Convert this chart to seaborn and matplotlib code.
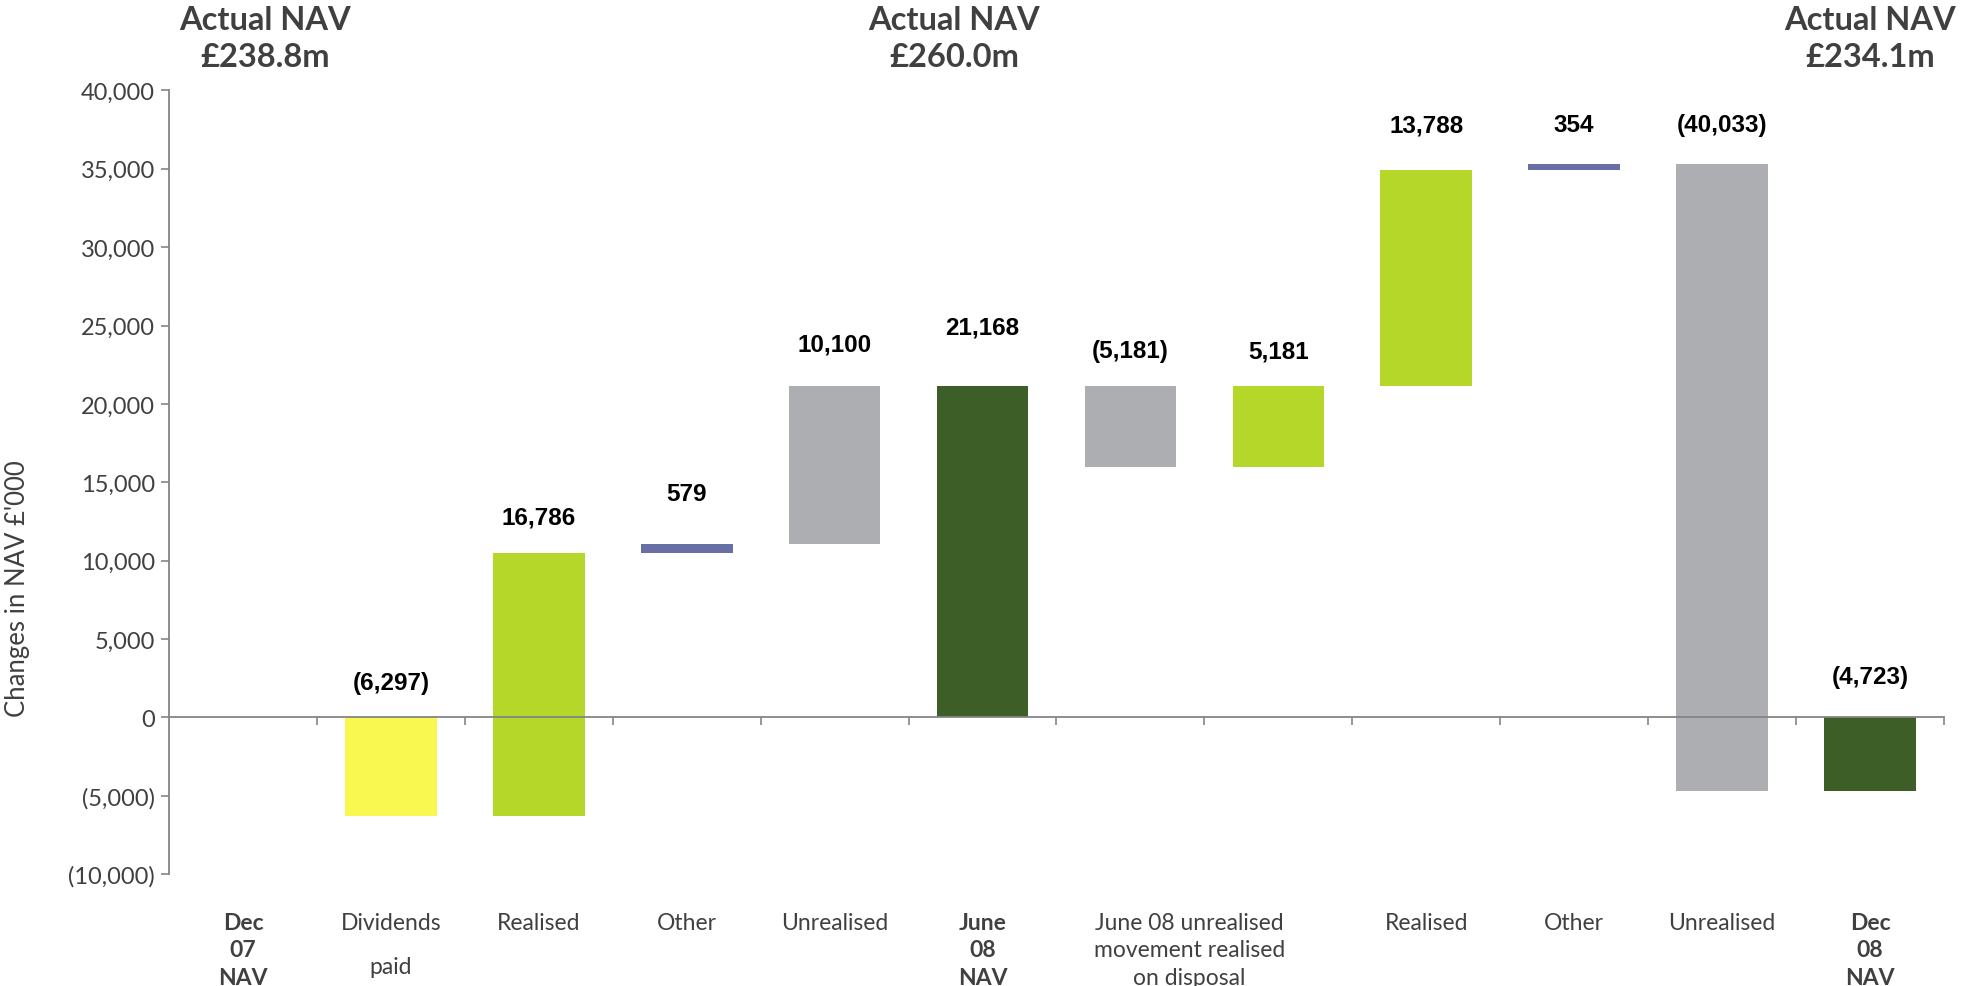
import numpy as np
import matplotlib
matplotlib.use("Agg")
import matplotlib.pyplot as plt
import seaborn as sns

# ---- waterfall data (£'000) ----
step_labels = ["Dec\n07\nNAV", "Dividends\npaid", "Realised", "Other", "Unrealised",
               "June\n08\nNAV", "", "", "Realised", "Other", "Unrealised", "Dec\n08\nNAV"]
step_values = [0, -6297, 16786, 579, 10100, 21168, -5181, 5181, 13788, 354, -40033, -4723]
step_kinds = ["total", "change", "change", "change", "change", "total",
              "change", "change", "change", "change", "change", "total"]
step_groups = ["nav", "dividends", "realised", "other", "unrealised", "nav",
               "unrealised", "realised", "realised", "other", "unrealised", "nav"]
shared_label = "June 08 unrealised\nmovement realised\non disposal"
nav_headers = ["Actual NAV", "Actual NAV", "Actual NAV"]
nav_amounts = ["£238.8m", "£260.0m", "£234.1m"]

# ---- styling ----
group_colors = {
    "nav": "#3D5F27",
    "dividends": "#F9F850",
    "realised": "#B5D729",
    "other": "#676FA5",
    "unrealised": "#ADAEB1",
}
label_y = [None, 2200, 12800, 14300, 23800, 24900, 23400, 23400, 37800, 37800, 37800, 2600]
header_x = [0.15, 4.81, 11.0]
text_grey = "#404040"
axis_grey = "#858585"

sns.set_theme(style="white")
plt.rcParams["font.family"] = ["Lato", "DejaVu Sans"]

# floating bar geometry from running totals
bottoms, heights = [], []
running = 0
for v, k in zip(step_values, step_kinds):
    if k == "total":
        bottoms.append(0)
        heights.append(v)
        running = v
    else:
        bottoms.append(running)
        heights.append(v)
        running += v

fig = plt.figure(figsize=(19.65, 9.87), dpi=100)
ax = fig.add_axes([0.086, 0.1135, 0.9033, 0.7938])

positions = np.arange(len(step_values))
sns.barplot(x=positions, y=heights, bottom=bottoms, width=0.62, color="#ADAEB1",
            saturation=1, errorbar=None, linewidth=0, ax=ax)
for patch, grp in zip(ax.patches, step_groups):
    patch.set_facecolor(group_colors[grp])
    patch.set_zorder(1)

ax.set_xlim(-0.5, len(step_values) - 0.5)
ax.set_ylim(-10000, 40000)

# y axis
yt = np.arange(-10000, 40001, 5000)
ax.set_yticks(yt)
ax.set_yticklabels([f"({abs(t):,})" if t < 0 else f"{t:,}" for t in yt],
                   fontsize=17, color=text_grey)
ax.tick_params(axis="y", which="major", direction="out", length=6, width=1.2,
               color=axis_grey, pad=4, left=True)

# x axis sits on zero, with marks between categories
ax.spines["bottom"].set_position(("data", 0))
ax.spines["top"].set_visible(False)
ax.spines["right"].set_visible(False)
for s in ("left", "bottom"):
    ax.spines[s].set_color(axis_grey)
    ax.spines[s].set_linewidth(1.3)
    ax.spines[s].set_zorder(3)
ax.set_xticks([])
ax.set_xticks(np.arange(len(step_values)) + 0.5, minor=True)
ax.tick_params(axis="x", which="minor", direction="out", length=6, width=1.2,
               color=axis_grey, bottom=True, labelbottom=False)
ax.set_xlabel("")
ax.set_ylabel("")

# category labels below the plot
cat_top = -12400
for i, lab in enumerate(step_labels):
    if not lab:
        continue
    bold = step_kinds[i] == "total"
    ax.text(i, cat_top, lab, ha="center", va="top", fontsize=16.5,
            fontweight="bold" if bold else "normal", color=text_grey,
            linespacing=2.4 if lab.startswith("Dividends") else 1.38,
            clip_on=False)
ax.text(6.4, cat_top, shared_label, ha="center", va="top", fontsize=16.5,
        color=text_grey, linespacing=1.38, clip_on=False)

# value labels
for i, v in enumerate(step_values):
    if label_y[i] is None:
        continue
    txt = f"({abs(v):,})" if v < 0 else f"{v:,}"
    ax.text(i, label_y[i], txt, ha="center", va="center", fontsize=17.5,
            fontweight="bold", color="black", family="Liberation Sans")

# NAV headers above the plot
for hx, h1, h2 in zip(header_x, nav_headers, nav_amounts):
    ax.text(hx, 43900, h1, ha="center", va="baseline", fontsize=23.5,
            fontweight="bold", color=text_grey, clip_on=False)
    ax.text(hx, 41540, h2, ha="center", va="baseline", fontsize=23.5,
            fontweight="bold", color=text_grey, clip_on=False)

# y axis title
ax.text(-0.0855, 0.365, "Changes in NAV £'000", rotation=90, ha="center", va="center",
        fontsize=18.5, color=text_grey, transform=ax.transAxes)

fig.savefig("out.png", dpi=100)
